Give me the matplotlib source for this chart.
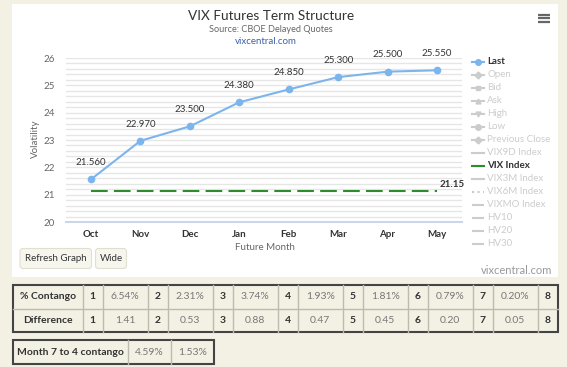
import matplotlib
matplotlib.use("Agg")
import matplotlib.pyplot as plt
from matplotlib.patches import Rectangle, FancyBboxPatch
from matplotlib.transforms import ScaledTranslation

plt.rcParams["font.family"] = ["Lato", "DejaVu Sans"]

# Data
months = ["Oct", "Nov", "Dec", "Jan", "Feb", "Mar", "Apr", "May"]
last = [21.56, 22.97, 23.50, 24.38, 24.85, 25.30, 25.50, 25.55]
vix_index = 21.15
legend_names = ["Last", "Open", "Bid", "Ask", "High", "Low", "Previous Close",
                "VIX9D Index", "VIX Index", "VIX3M Index", "VIX6M Index",
                "VIXMO Index", "HV10", "HV20", "HV30"]
contango_pct = ["6.54%", "2.31%", "3.74%", "1.93%", "1.81%", "0.79%", "0.20%"]
difference = ["1.41", "0.53", "0.88", "0.47", "0.45", "0.20", "0.05"]
month7to4 = ["4.59%", "1.53%"]

W, H = 567, 367
BG = "#f3f1e4"
BLUE = "#7cb5ec"
GREEN = "#2e8b2e"
HIDDEN = "#cccccc"

fig = plt.figure(figsize=(W / 100, H / 100), dpi=100, facecolor=BG)

# page layer in pixel coordinates
bg = fig.add_axes([0, 0, 1, 1])
bg.set_xlim(0, W)
bg.set_ylim(H, 0)
bg.axis("off")
bg.add_patch(Rectangle((12, 4), 546, 273, facecolor="white", edgecolor="none"))

# titles
bg.text(271, 16, "VIX Futures Term Structure", ha="center", va="center", fontsize=9.8, color="#333333")
bg.text(271, 29, "Source: CBOE Delayed Quotes", ha="center", va="center", fontsize=6.6, color="#666666")
bg.text(266, 42, "vixcentral.com", ha="center", va="center", fontsize=7, color="#3a62a8")

# menu icon
for yy in (14.5, 18, 21.5):
    bg.plot([538, 549.5], [yy, yy], color="#666666", lw=1.6, solid_capstyle="butt")

# axis titles
bg.text(35, 139, "Volatility", rotation=90, ha="center", va="center", fontsize=7, color="#666666")
bg.text(265, 248, "Future Month", ha="center", va="center", fontsize=7, color="#666666")

# buttons
for x0, x1, label in [(20, 91.5, "Refresh Graph"), (95.5, 126.5, "Wide")]:
    bg.add_patch(FancyBboxPatch((x0, 248.5), x1 - x0, 20, boxstyle="round,pad=0,rounding_size=3",
                                facecolor="#f7f6ee", edgecolor="#e2dfd0", lw=0.8))
    bg.text((x0 + x1) / 2, 258.5, label, ha="center", va="center", fontsize=7, color="#333333")

# credit
bg.text(552, 270.5, "vixcentral.com", ha="right", va="center", fontsize=8, color="#999999")

# legend
styles = [("o", "-"), ("D", "-"), ("s", "-"), ("^", "-"), ("v", "-"), ("o", "-"), ("D", "-"),
          (None, "-"), (None, "-"), (None, "-"), (None, ":"), (None, "-."), (None, "-."),
          (None, "-."), (None, "-.")]
for i, name in enumerate(legend_names):
    y = 61.5 + i * 13.0
    marker, ls = styles[i]
    if name == "Last":
        col, tcol, weight = BLUE, "#333333", "bold"
    elif name == "VIX Index":
        col, tcol, weight = GREEN, "#333333", "bold"
    else:
        col, tcol, weight = HIDDEN, HIDDEN, "normal"
    bg.plot([472, 484], [y, y], color=col, lw=1.5, ls=ls)
    if marker:
        bg.plot([478], [y], marker=marker, color=col, ms=3.5 if marker != "o" else 4)
    bg.text(487, y, name, ha="left", va="center", fontsize=7, color=tcol, fontweight=weight)

# main chart
ax = fig.add_axes([66.3 / W, 1 - 222 / H, (461.7 - 66.3) / W, (222 - 58) / H])
ax.set_facecolor("none")
x = list(range(len(months)))
ax.plot(x, last, color=BLUE, lw=1.5, marker="o", ms=4.5, zorder=3)
for xi, v in zip(x, last):
    ax.annotate(f"{v:.3f}", (xi, v), xytext=(0, 12), textcoords="offset points",
                ha="center", va="center", fontsize=7, color="#333333")
ax.plot(x, [vix_index] * len(x), color=GREEN, lw=1.5, dashes=(8, 3), zorder=2)
ax.annotate(f"{vix_index:.2f}", (x[-1], vix_index), xytext=(11, 1), textcoords="offset points",
            ha="center", va="bottom", fontsize=7, color="#333333", fontweight="bold")

ax.set_xlim(-0.5, 7.5)
ax.set_ylim(20, 26)
ax.set_yticks(range(20, 27))
ax.set_yticks([20 + 0.2 * k for k in range(31)], minor=True)
ax.set_xticks(x)
ax.set_xticklabels(months, fontsize=7, color="#333333", fontweight="bold")
for lab in ax.get_xticklabels():
    lab.set_transform(lab.get_transform() + ScaledTranslation(-6.5 / 100, 0, fig.dpi_scale_trans))
ax.tick_params(axis="y", which="both", length=0, labelsize=7, labelcolor="#666666", pad=8)
ax.tick_params(axis="x", length=0, pad=6)
ax.grid(axis="y", which="both", color="#e6e6e6", lw=1)
ax.set_axisbelow(True)
for s in ["top", "right", "left"]:
    ax.spines[s].set_visible(False)
ax.spines["bottom"].set_color("#ccd6eb")
ax.spines["bottom"].set_linewidth(1.5)


# tables
def draw_table(x_edges, y_edges, rows):
    for r, row in enumerate(rows):
        for c, (txt, kind) in enumerate(row):
            xc = (x_edges[c] + x_edges[c + 1]) / 2
            yc = (y_edges[r] + y_edges[r + 1]) / 2
            if kind == "b":
                bg.text(xc, yc, txt, ha="center", va="center", fontsize=7.5, color="#333333", fontweight="bold")
            else:
                bg.text(xc, yc, txt, ha="center", va="center", fontsize=7.5, color="#777777")
    for xe in x_edges[1:-1]:
        bg.plot([xe, xe], [y_edges[0], y_edges[-1]], color="#bdbab0", lw=1)
    for ye in y_edges[1:-1]:
        bg.plot([x_edges[0], x_edges[-1]], [ye, ye], color="#bdbab0", lw=1)
    bg.add_patch(Rectangle((x_edges[0], y_edges[0]), x_edges[-1] - x_edges[0], y_edges[-1] - y_edges[0],
                           facecolor="none", edgecolor="#444444", lw=1.5))


edges = [12.7, 82.7]
for k in range(8):
    edges.append(edges[-1] + 20)
    if k < 7:
        edges.append(edges[-1] + 45)
row1 = [("% Contango", "b")]
row2 = [("Difference", "b")]
for k in range(8):
    row1.append((str(k + 1), "b"))
    row2.append((str(k + 1), "b"))
    if k < 7:
        row1.append((contango_pct[k], "n"))
        row2.append((difference[k], "n"))
draw_table(edges, [285, 308.5, 332.3], [row1, row2])

draw_table([12.7, 127.7, 171, 214.3], [340, 364.3],
           [[("Month 7 to 4 contango", "b"), (month7to4[0], "n"), (month7to4[1], "n")]])

fig.savefig("out.png", dpi=100, facecolor=BG)
